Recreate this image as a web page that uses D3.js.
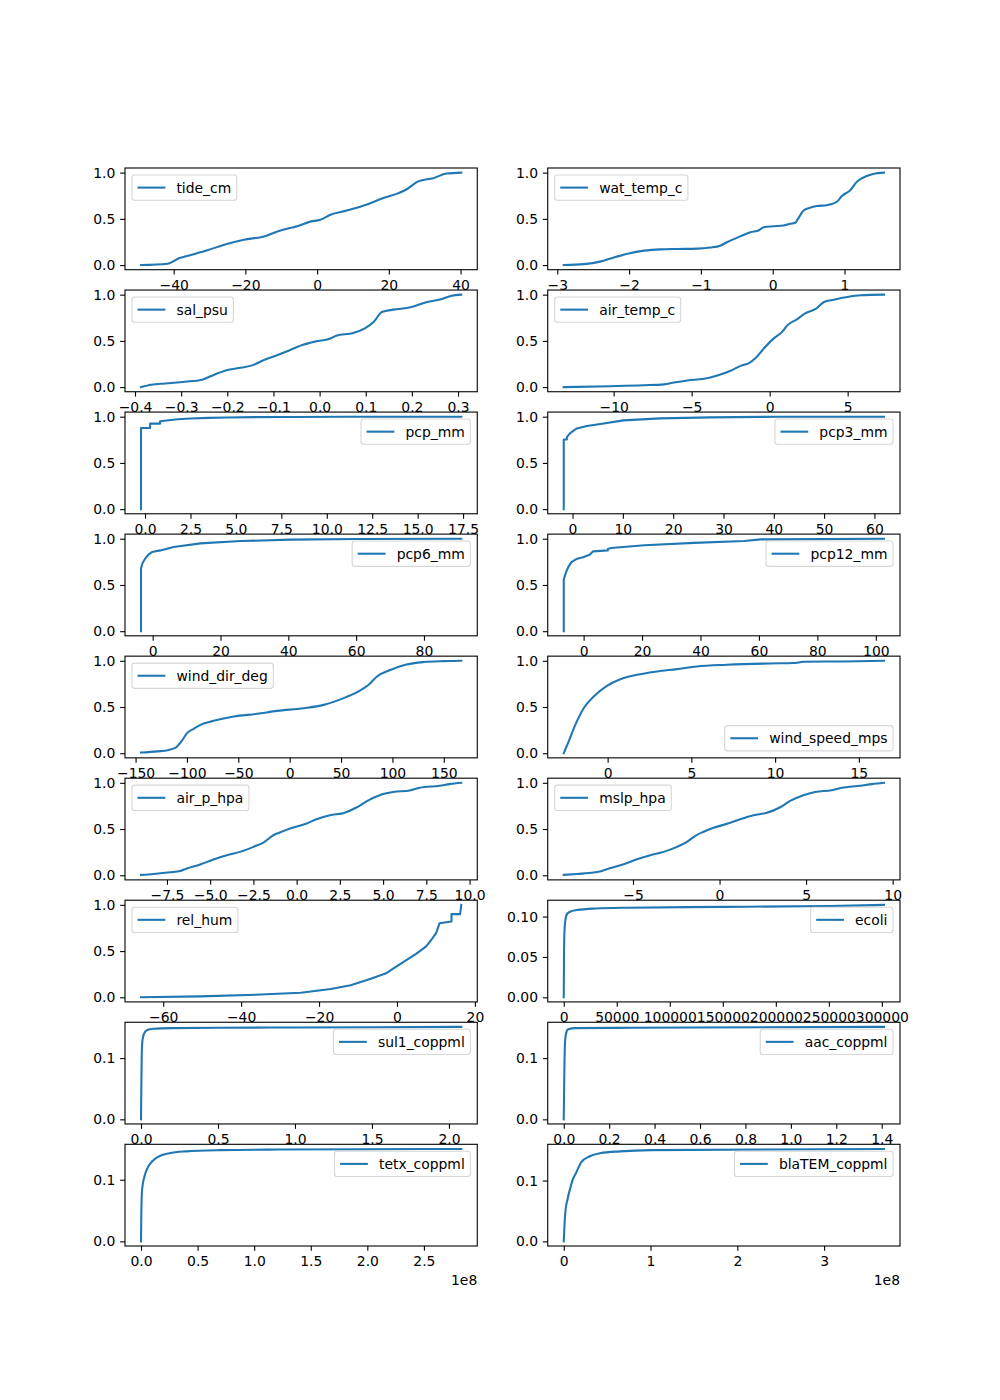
<!DOCTYPE html>
<html>
<head>
<meta charset="utf-8">
<script src="https://cdn.jsdelivr.net/npm/d3@7"></script>
<style>
	body { margin: 0; background: #fff; }
	svg { display: block; font-family: "DejaVu Sans", sans-serif; }
</style>
</head>
<body>
<svg id="fig" width="1000" height="1400"></svg>
<script>
(function() {

	// DATA  (x values along each ECDF curve, and the cumulative share at each one)
	var tideX = [-49.1,-41.7,-38.4,-35.2,-30.6,-25.9,-20.4,-14.8,-10.2,-5.6,-1.9,0.9,3.7,8.3,13.9,18.5,22.2,25,28.2,32.4,36.1,40.2]
	var tideY = [0,0.015,0.076,0.11,0.16,0.22,0.275,0.31,0.375,0.42,0.47,0.49,0.545,0.59,0.655,0.725,0.77,0.82,0.905,0.94,0.99,1]

	var watX = [-2.91,-2.63,-2.39,-2.21,-2.02,-1.79,-1.56,-1.33,-1.05,-0.87,-0.73,-0.63,-0.45,-0.31,-0.19,-0.125,0.014,0.15,0.245,0.315,0.36,0.43,0.52,0.616,0.755,0.894,0.963,1.08,1.17,1.31,1.4,1.55]
	var watY = [0,0.01,0.04,0.083,0.123,0.156,0.17,0.174,0.178,0.19,0.21,0.25,0.31,0.355,0.377,0.41,0.42,0.428,0.446,0.457,0.51,0.59,0.62,0.638,0.648,0.685,0.746,0.81,0.9,0.964,0.986,1]

	var salX = [-0.387,-0.365,-0.335,-0.292,-0.255,-0.226,-0.197,-0.175,-0.146,-0.124,-0.095,-0.066,-0.036,-0.007,0.022,0.036,0.073,0.098,0.117,0.135,0.16,0.197,0.233,0.263,0.284,0.307]
	var salY = [0,0.025,0.04,0.058,0.08,0.14,0.188,0.206,0.235,0.285,0.34,0.397,0.458,0.495,0.523,0.556,0.585,0.635,0.704,0.812,0.838,0.863,0.92,0.95,0.986,1]

	var airTX = [-13.2,-10.2,-8.06,-6.77,-6.13,-5.28,-4.2,-3.35,-2.5,-1.86,-1.32,-0.9,-0.36,0.28,0.81,1.13,1.77,2.3,2.95,3.48,4.12,4.98,5.83,7.33]
	var airTY = [0,0.01,0.02,0.03,0.05,0.072,0.09,0.126,0.177,0.23,0.26,0.314,0.42,0.53,0.6,0.668,0.736,0.8,0.845,0.92,0.946,0.975,0.993,1]

	var pcpX = [-0.22,-0.22,0.28,0.28,0.83,0.83,1.3,1.8,2.5,3.5,4.5,6,8,11,17.4]
	var pcpY = [0,0.877,0.877,0.925,0.925,0.95,0.962,0.972,0.98,0.987,0.992,0.995,0.997,0.999,1]

	var pcp3X = [-1.75,-1.75,-1.13,-1.13,-0.6,0.2,0.86,2.85,6.2,10.1,17.4,27.4,40.6,61.9]
	var pcp3Y = [0,0.754,0.754,0.78,0.815,0.85,0.873,0.9,0.927,0.96,0.982,0.993,0.999,1]

	var pcp6X = [-3.44,-3.44,-2.95,-2.16,-1.18,-0.2,2.26,6.2,14.1,25.9,40.6,60.3,91]
	var pcp6Y = [0,0.68,0.74,0.787,0.83,0.856,0.874,0.91,0.95,0.975,0.99,0.998,1]

	var pcp12X = [-6.8,-6.8,-6.1,-5.3,-4.2,-2.5,-0.2,2.05,3.2,8.3,8.3,9.4,20.8,37.8,54.9,60.6,102.8]
	var pcp12Y = [0,0.56,0.63,0.69,0.747,0.78,0.8,0.827,0.863,0.874,0.89,0.9,0.93,0.955,0.975,0.993,1]

	var windDX = [-144.7,-129,-117.7,-111,-104.8,-99.9,-93.4,-86.9,-74,-54.5,-31.8,-12.3,13.6,33.1,52.5,65.5,76.9,85,98,112.6,130.4,150,167]
	var windDY = [0.007,0.02,0.036,0.06,0.137,0.217,0.264,0.307,0.35,0.397,0.426,0.458,0.487,0.523,0.596,0.66,0.74,0.83,0.9,0.957,0.986,0.996,1]

	var windSX = [-2.62,-2.33,-1.93,-1.43,-0.83,-0.04,0.76,1.75,2.94,4.14,5.33,7.12,9.7,11.1,11.7,14.1,16.5]
	var windSY = [0,0.126,0.307,0.487,0.614,0.729,0.8,0.848,0.884,0.91,0.939,0.957,0.971,0.975,0.989,0.993,1]

	var airPX = [-9.0,-8.27,-7.31,-6.73,-6.35,-5.58,-4.81,-4.04,-3.27,-2.5,-1.92,-1.35,-0.87,-0.38,0.58,1.15,1.92,2.69,3.46,4.04,4.8,5.58,6.54,7.12,8.27,8.85,9.52]
	var airPY = [0.004,0.014,0.032,0.047,0.072,0.116,0.17,0.217,0.253,0.307,0.354,0.433,0.47,0.505,0.56,0.606,0.65,0.672,0.733,0.8,0.866,0.9,0.917,0.946,0.968,0.986,1]

	var mslpX = [-9.0,-8.23,-7.27,-6.79,-6.4,-5.54,-4.77,-4.0,-3.23,-2.46,-1.88,-1.4,-0.92,-0.35,0.62,1.19,1.96,2.73,3.5,4.08,4.85,5.52,6.48,7.06,8.12,8.8,9.5]
	var mslpY = [0.004,0.014,0.029,0.047,0.072,0.12,0.173,0.217,0.253,0.307,0.361,0.426,0.47,0.513,0.567,0.606,0.65,0.675,0.736,0.805,0.866,0.9,0.92,0.946,0.968,0.986,1]

	var humX = [-65.7,-50.5,-35,-24.7,-17,-11.9,-6.7,-2.8,-0.3,2.3,4.9,7.5,8.8,10.1,10.9,14,14,16.2,16.5]
	var humY = [0,0.01,0.03,0.05,0.09,0.13,0.2,0.26,0.33,0.4,0.47,0.55,0.62,0.7,0.8,0.82,0.9,0.9,1]

	var ecoliX = [0,300,800,1500,3000,6000,12000,30000,60000,150000,250000,302000]
	var ecoliY = [0,0.06,0.085,0.095,0.103,0.106,0.108,0.11,0.111,0.112,0.113,0.1145]

	var sul1X = [0,0.002,0.005,0.01,0.02,0.04,0.08,0.2,0.5,1.0,2.08]
	var sul1Y = [0,0.05,0.11,0.13,0.14,0.146,0.148,0.149,0.1495,0.15,0.151]

	var aacX = [0,0.002,0.005,0.01,0.02,0.05,0.3,1.41]
	var aacY = [0,0.06,0.12,0.14,0.147,0.149,0.1495,0.151]

	// tetx and blaTEM in units of 1e8
	var tetxX = [0,0.003,0.01,0.03,0.06,0.1,0.15,0.25,0.4,0.7,1.2,2.0,2.83]
	var tetxY = [0,0.05,0.085,0.105,0.12,0.13,0.137,0.143,0.146,0.148,0.149,0.1495,0.15]

	var blaX = [0,0.01,0.02,0.045,0.07,0.1,0.15,0.2,0.3,0.42,0.65,1.0,3.69]
	var blaY = [0,0.03,0.05,0.07,0.085,0.1,0.115,0.13,0.14,0.145,0.148,0.15,0.152]

	// TICK LABELS
	var tideTicks = [-40,-20,0,20,40]
	var watTicks = [-3,-2,-1,0,1]
	var salTicks = [-0.4,-0.3,-0.2,-0.1,0,0.1,0.2,0.3]
	var airTTicks = [-10,-5,0,5]
	var pcpTicks = [0,2.5,5,7.5,10,12.5,15,17.5]
	var pcp3Ticks = [0,10,20,30,40,50,60]
	var pcp6Ticks = [0,20,40,60,80]
	var pcp12Ticks = [0,20,40,60,80,100]
	var windDTicks = [-150,-100,-50,0,50,100,150]
	var windSTicks = [0,5,10,15]
	var airPTicks = [-7.5,-5,-2.5,0,2.5,5,7.5,10]
	var mslpTicks = [-5,0,5,10]
	var humTicks = [-60,-40,-20,0,20]
	var ecoliTicks = [0,50000,100000,150000,200000,250000,300000]
	var sul1Ticks = [0,0.5,1,1.5,2]
	var aacTicks = [0,0.2,0.4,0.6,0.8,1,1.2,1.4]
	var tetxTicks = [0,0.5,1,1.5,2,2.5]
	var blaTicks = [0,1,2,3]

	var cdfTicks = [0, 0.5, 1]
	var ecoliYTicks = [0, 0.05, 0.1]
	var geneYTicks = [0, 0.1]

	// smooth: the curve has no vertical jumps, so it can go through a monotone spline
	var panels = [
		{ name: 'tide_cm', x: tideX, y: tideY, xt: tideTicks, xd: 0, yt: cdfTicks, yd: 1, leg: 'ul', smooth: true },
		{ name: 'wat_temp_c', x: watX, y: watY, xt: watTicks, xd: 0, yt: cdfTicks, yd: 1, leg: 'ul', smooth: true },
		{ name: 'sal_psu', x: salX, y: salY, xt: salTicks, xd: 1, yt: cdfTicks, yd: 1, leg: 'ul', smooth: true },
		{ name: 'air_temp_c', x: airTX, y: airTY, xt: airTTicks, xd: 0, yt: cdfTicks, yd: 1, leg: 'ul', smooth: true },
		{ name: 'pcp_mm', x: pcpX, y: pcpY, xt: pcpTicks, xd: 1, yt: cdfTicks, yd: 1, leg: 'ur' },
		{ name: 'pcp3_mm', x: pcp3X, y: pcp3Y, xt: pcp3Ticks, xd: 0, yt: cdfTicks, yd: 1, leg: 'ur' },
		{ name: 'pcp6_mm', x: pcp6X, y: pcp6Y, xt: pcp6Ticks, xd: 0, yt: cdfTicks, yd: 1, leg: 'ur' },
		{ name: 'pcp12_mm', x: pcp12X, y: pcp12Y, xt: pcp12Ticks, xd: 0, yt: cdfTicks, yd: 1, leg: 'ur' },
		{ name: 'wind_dir_deg', x: windDX, y: windDY, xt: windDTicks, xd: 0, yt: cdfTicks, yd: 1, leg: 'ul', smooth: true },
		{ name: 'wind_speed_mps', x: windSX, y: windSY, xt: windSTicks, xd: 0, yt: cdfTicks, yd: 1, leg: 'lr', smooth: true },
		{ name: 'air_p_hpa', x: airPX, y: airPY, xt: airPTicks, xd: 1, yt: cdfTicks, yd: 1, leg: 'ul', smooth: true },
		{ name: 'mslp_hpa', x: mslpX, y: mslpY, xt: mslpTicks, xd: 0, yt: cdfTicks, yd: 1, leg: 'ul', smooth: true },
		{ name: 'rel_hum', x: humX, y: humY, xt: humTicks, xd: 0, yt: cdfTicks, yd: 1, leg: 'ul' },
		{ name: 'ecoli', x: ecoliX, y: ecoliY, xt: ecoliTicks, xd: 0, yt: ecoliYTicks, yd: 2, leg: 'ur', smooth: true },
		{ name: 'sul1_coppml', x: sul1X, y: sul1Y, xt: sul1Ticks, xd: 1, yt: geneYTicks, yd: 1, leg: 'ur', smooth: true },
		{ name: 'aac_coppml', x: aacX, y: aacY, xt: aacTicks, xd: 1, yt: geneYTicks, yd: 1, leg: 'ur', smooth: true },
		{ name: 'tetx_coppml', x: tetxX, y: tetxY, xt: tetxTicks, xd: 1, yt: geneYTicks, yd: 1, leg: 'ur', offset: '1e8', smooth: true },
		{ name: 'blaTEM_coppml', x: blaX, y: blaY, xt: blaTicks, xd: 0, yt: geneYTicks, yd: 1, leg: 'ur', offset: '1e8', smooth: true }
	]

	//LAYOUT (matplotlib default subplot params on a 10x14 inch figure)
	var W = 1000, H = 1400
	var left = 0.125 * W, right = 0.9 * W
	var top = (1 - 0.88) * H, bottom = (1 - 0.11) * H
	var nRows = 9, nCols = 2
	var cellW = (right - left) / (nCols + 0.2 * (nCols - 1))
	var cellH = (bottom - top) / (nRows + 0.2 * (nRows - 1))
	var fs = 13.9
	var lineColor = '#1f77b4'
	var tickLen = 4.86
	var pad = 4.86

	var svg = d3.select('#fig')

	function fmt(v, dec) {
		var s = d3.format('.' + dec + 'f')(v)
		return s.replace('-', '\u2212')
	}

	function padded(ext) {
		var m = (ext[1] - ext[0]) * 0.05
		return [ext[0] - m, ext[1] + m]
	}

	function drawPanel(p, i) {
		var row = Math.floor(i / nCols), col = i % nCols
		var x0 = left + col * cellW * 1.2
		var y0 = top + row * cellH * 1.2

		var xs = d3.scaleLinear().domain(padded(d3.extent(p.x))).range([0, cellW])
		var ys = d3.scaleLinear().domain(padded([d3.min(p.y.concat([0])), d3.max(p.y)])).range([cellH, 0])

		var g = svg.append('g').attr('transform', 'translate(' + x0 + ',' + y0 + ')')

		g.append('rect')
			.attr('width', cellW)
			.attr('height', cellH)
			.attr('fill', '#fff')

		var pts = p.x.map(function(v, k) { return [v, p.y[k]] })
		var line = d3.line()
			.x(function(d) { return xs(d[0]) })
			.y(function(d) { return ys(d[1]) })
			.curve(p.smooth ? d3.curveMonotoneX : d3.curveLinear)

		g.append('path')
			.datum(pts)
			.attr('d', line)
			.attr('fill', 'none')
			.attr('stroke', lineColor)
			.attr('stroke-width', 2.08)
			.attr('stroke-linejoin', 'round')
			.attr('stroke-linecap', 'square')

		// ticks
		var axX = d3.axisBottom(xs).tickValues(p.xt).tickSize(tickLen).tickPadding(pad)
			.tickFormat(function(d) { return fmt(d, p.xd) })
		var axY = d3.axisLeft(ys).tickValues(p.yt).tickSize(tickLen).tickPadding(pad)
			.tickFormat(function(d) { return fmt(d, p.yd) })

		var gx = g.append('g').attr('transform', 'translate(0,' + cellH + ')').call(axX)
		var gy = g.append('g').call(axY)
		;[gx, gy].forEach(function(a) {
			a.select('.domain').remove()
			a.selectAll('line').attr('stroke', '#000').attr('stroke-width', 1.1)
			a.selectAll('text')
				.attr('fill', '#000')
				.style('font-size', fs + 'px')
				.style('font-family', '"DejaVu Sans", sans-serif')
		})
		gx.selectAll('text').attr('dy', '0.76em')

		// spines
		g.append('rect')
			.attr('width', cellW)
			.attr('height', cellH)
			.attr('fill', 'none')
			.attr('stroke', '#000')
			.attr('stroke-width', 1.1)

		if (p.offset) {
			g.append('text')
				.attr('x', cellW)
				.attr('y', cellH + 39)
				.attr('text-anchor', 'end')
				.style('font-size', fs + 'px')
				.text(p.offset)
		}

		drawLegend(g, p)
	}

	function drawLegend(g, p) {
		var bpad = 0.4 * fs, hlen = 2.0 * fs, hpad = 0.8 * fs, axpad = 0.5 * fs
		var lg = g.append('g')
		var box = lg.append('rect')
		var txt = lg.append('text')
			.style('font-size', fs + 'px')
			.attr('fill', '#000')
			.text(p.name)
		var tw = txt.node().getComputedTextLength()
		var bw = bpad * 2 + hlen + hpad + tw
		var bh = bpad * 2 + fs * 1.02

		var bx = p.leg === 'ul' ? axpad : cellW - axpad - bw
		var by = p.leg === 'lr' ? cellH - axpad - bh : axpad

		box.attr('x', bx).attr('y', by)
			.attr('width', bw).attr('height', bh)
			.attr('rx', 2.8).attr('ry', 2.8)
			.attr('fill', '#fff').attr('fill-opacity', 0.8)
			.attr('stroke', '#cccccc').attr('stroke-opacity', 0.8)
			.attr('stroke-width', 1.1)

		var cy = by + bh / 2
		lg.append('line')
			.attr('x1', bx + bpad).attr('x2', bx + bpad + hlen)
			.attr('y1', cy).attr('y2', cy)
			.attr('stroke', lineColor).attr('stroke-width', 2.08)

		txt.attr('x', bx + bpad + hlen + hpad)
			.attr('y', cy)
			.attr('dy', '0.36em')
	}

	panels.forEach(drawPanel)
})()
</script>
</body>
</html>
